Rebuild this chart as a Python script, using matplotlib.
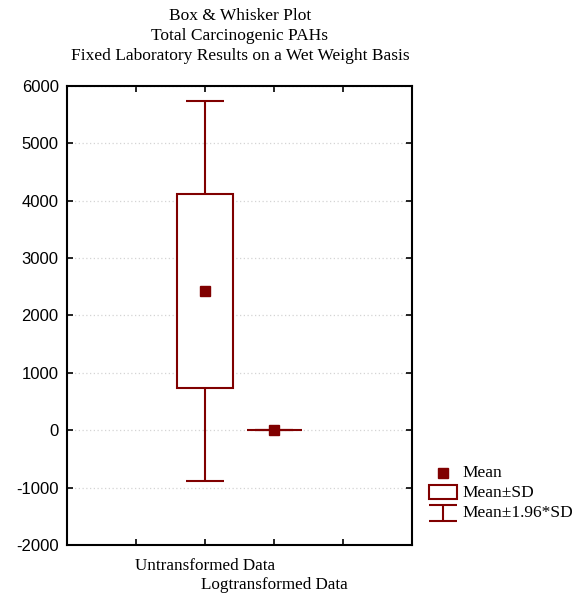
import matplotlib
matplotlib.use("Agg")
import matplotlib.pyplot as plt
from matplotlib.patches import Rectangle

plt.rcParams["axes.unicode_minus"] = False

# Data: mean and SD per group
groups = ["Untransformed Data", "Logtransformed Data"]
means = [2420, 7.2]
sds = [1690, 1.1]
positions = [2, 3]
yticks = [-2000, -1000, 0, 1000, 2000, 3000, 4000, 5000, 6000]

red = "#800000"
serif = "Liberation Serif"
sans = "Liberation Sans"

fig = plt.figure(figsize=(5.88, 5.97), dpi=100)
ax = fig.add_axes([0.114, 0.0871, 0.587, 0.769])

for pos, m, s in zip(positions, means, sds):
    lo1, hi1 = m - s, m + s
    lo2, hi2 = m - 1.96 * s, m + 1.96 * s
    ax.vlines(pos, hi1, hi2, color=red, lw=1.5, zorder=3)
    ax.vlines(pos, lo2, lo1, color=red, lw=1.5, zorder=3)
    ax.hlines([lo2, hi2], pos - 0.28, pos + 0.28, color=red, lw=1.5, zorder=3)
    ax.bar(pos, hi1 - lo1, bottom=lo1, width=0.8, facecolor="white",
           edgecolor=red, lw=1.5, zorder=4)
    ax.plot(pos, m, "s", color=red, ms=7, zorder=5)

ax.set_xlim(0, 5)
ax.set_ylim(-2000, 6000)
ax.set_yticks(yticks)
ax.set_xticks([1, 2, 3, 4])
ax.set_xticklabels(["", groups[0], "", ""], fontfamily=serif, fontsize=12.3)
# second category label staggered one line lower
ax.xaxis.remove_overlapping_locs = False
ax.set_xticks([positions[1]], minor=True)
ax.set_xticklabels([groups[1]], minor=True, fontfamily=serif, fontsize=12.3)
for lab in ax.get_yticklabels():
    lab.set_fontfamily(sans)
    lab.set_fontsize(12)
ax.tick_params(direction="in", top=True, right=True, length=4, width=1.2,
               pad=6)
ax.tick_params(axis="x", pad=9.5)
ax.tick_params(axis="x", which="minor", length=0, pad=23)
ax.yaxis.grid(True, linestyle=(0, (1, 2)), color="#d4d4d4", lw=0.9)
ax.set_axisbelow(True)
for sp in ax.spines.values():
    sp.set_linewidth(1.5)

fig.text(0.408, 0.986, "Box & Whisker Plot\nTotal Carcinogenic PAHs\n"
         "Fixed Laboratory Results on a Wet Weight Basis",
         ha="center", va="top", fontfamily=serif, fontsize=12.5,
         linespacing=1.33)

# legend drawn by hand, in pixel-like coordinates
lax = fig.add_axes([410 / 588, 1 - 530 / 597, 178 / 588, 70 / 597])
lax.set_xlim(410, 588)
lax.set_ylim(530, 460)
lax.axis("off")
lax.plot(443, 473, "s", color=red, ms=7)
lax.text(462, 473, "Mean", va="center", fontfamily=serif, fontsize=12.5)
lax.add_patch(Rectangle((429, 485), 28, 14, facecolor="white",
                        edgecolor=red, lw=1.5))
lax.text(462, 493, "Mean±SD", va="center", fontfamily=serif, fontsize=12.5)
lax.hlines([505, 521], 429, 457, color=red, lw=1.5)
lax.vlines(443, 505, 521, color=red, lw=1.5)
lax.text(462, 513, "Mean±1.96*SD", va="center", fontfamily=serif,
         fontsize=12.5)

fig.savefig("out.png", dpi=100)
